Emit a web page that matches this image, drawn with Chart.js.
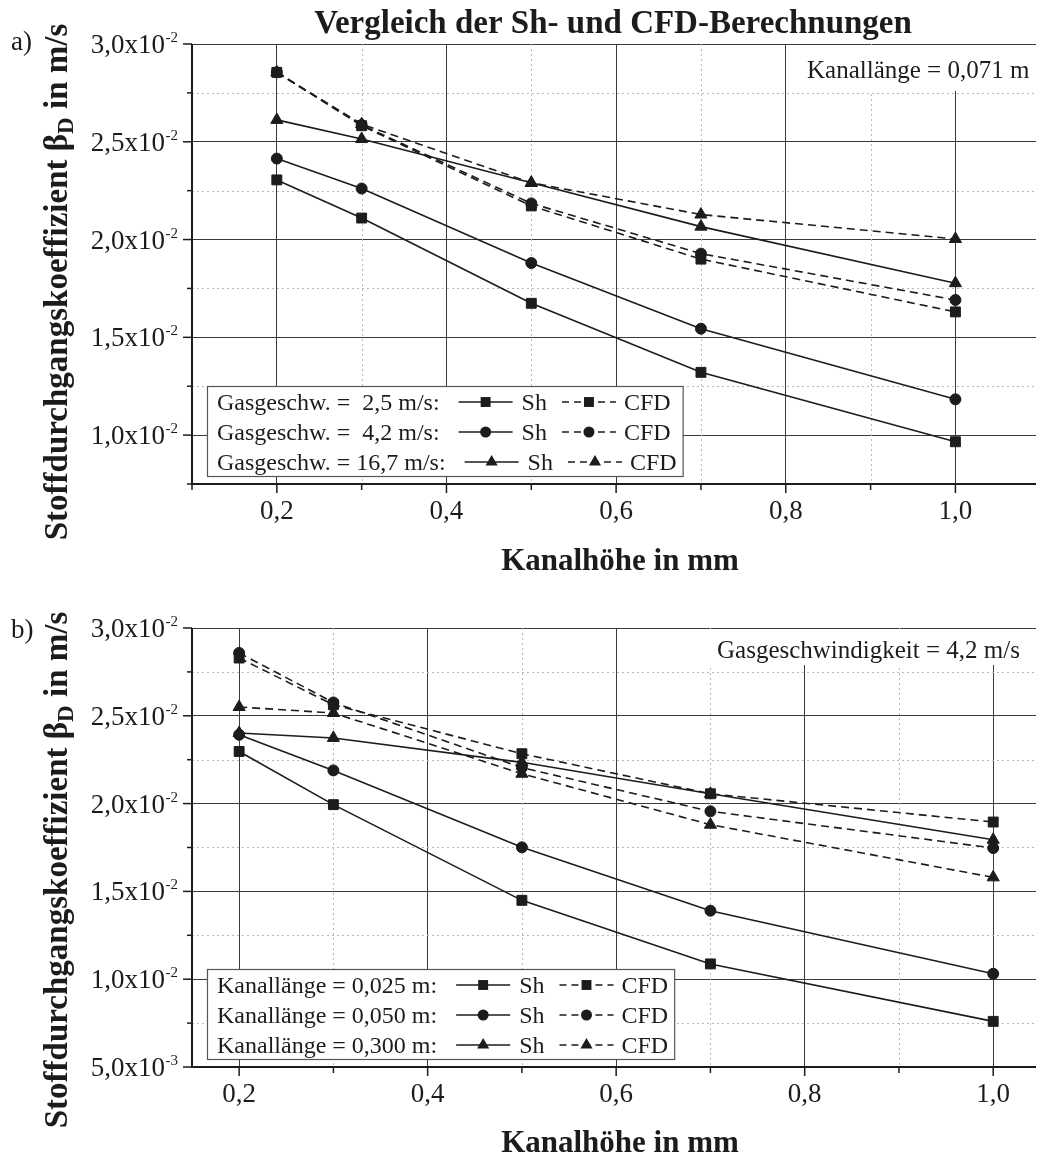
<!DOCTYPE html>
<html>
<head>
<meta charset="utf-8">
<script src="https://cdn.jsdelivr.net/npm/chart.js@4.4.1/dist/chart.umd.min.js"></script>
<style>
html,body{margin:0;padding:0;background:#fff;}
#wrap{position:relative;width:1044px;height:1159px;overflow:hidden;background:#fff;}
canvas{position:absolute;left:0;}
</style>
</head>
<body>
<div id="wrap">
<canvas id="c1" width="1044" height="580" style="top:0px"></canvas>
<canvas id="c2" width="1044" height="579" style="top:580px"></canvas>
</div>
<script>
// ---------- data ----------
const xValues = [0.2, 0.3, 0.5, 0.7, 1.0];

// panel a) Kanallänge = 0,071 m
const topLegendLabels = ['Gasgeschw. =  2,5 m/s:', 'Gasgeschw. =  4,2 m/s:', 'Gasgeschw. = 16,7 m/s:'];
const topSh25  = [0.02305, 0.02110, 0.01674, 0.01321, 0.00966];
const topSh42  = [0.02414, 0.02261, 0.01880, 0.01544, 0.01183];
const topSh167 = [0.02612, 0.02514, 0.02290, 0.02066, 0.01777];
const topCfd25  = [0.02855, 0.02582, 0.02172, 0.01900, 0.01630];
const topCfd42  = [0.02855, 0.02586, 0.02185, 0.01928, 0.01691];
const topCfd167 = [0.02855, 0.02590, 0.02290, 0.02128, 0.02003];

// panel b) Gasgeschwindigkeit = 4,2 m/s
const bottomLegendLabels = ['Kanallänge = 0,025 m:', 'Kanallänge = 0,050 m:', 'Kanallänge = 0,300 m:'];
const botSh025 = [0.02297, 0.01994, 0.01449, 0.01087, 0.00760];
const botSh050 = [0.02392, 0.02189, 0.01751, 0.01390, 0.01031];
const botSh300 = [0.02402, 0.02374, 0.02235, 0.02056, 0.01794];
const botCfd025 = [0.02829, 0.02563, 0.02284, 0.02056, 0.01895];
const botCfd050 = [0.02858, 0.02576, 0.02205, 0.01956, 0.01747];
const botCfd300 = [0.02550, 0.02516, 0.02170, 0.01880, 0.01580];

// ticks
const xMajorValues = [0.2, 0.4, 0.6, 0.8, 1.0];
const xTickLabels = ['0,2', '0,4', '0,6', '0,8', '1,0'];
const xMinorValues = [0.1, 0.3, 0.5, 0.7, 0.9];

const topYMajorValues = [0.010, 0.015, 0.020, 0.025, 0.030];
const topYTickMantissas = ['1,0', '1,5', '2,0', '2,5', '3,0'];
const topYTickExponents = ['-2', '-2', '-2', '-2', '-2'];
const topYMinorValues = [0.0075, 0.0125, 0.0175, 0.0225, 0.0275];

const botYMajorValues = [0.005, 0.010, 0.015, 0.020, 0.025, 0.030];
const botYTickMantissas = ['5,0', '1,0', '1,5', '2,0', '2,5', '3,0'];
const botYTickExponents = ['-3', '-2', '-2', '-2', '-2', '-2'];
const botYMinorValues = [0.0075, 0.0125, 0.0175, 0.0225, 0.0275];

const markerStyles = ['rect', 'circle', 'triangle'];

// ---------- drawing helpers ----------
const SERIF = '"Liberation Serif", "Times New Roman", serif';
const INK = '#1c1c1c';
const DASH = [8, 5];

function radiusFor(style) { return style === 'circle' ? 5.5 : 7; }

function drawMarker(ctx, style, x, y) {
  const r = radiusFor(style);
  ctx.beginPath();
  if (style === 'rect') {
    const s = r * Math.SQRT1_2;
    ctx.rect(x - s, y - s, 2 * s, 2 * s);
  } else if (style === 'circle') {
    ctx.arc(x, y, r, 0, Math.PI * 2);
  } else {
    const h = r * Math.sin(2 * Math.PI / 3);
    ctx.moveTo(x, y - r);
    ctx.lineTo(x + h, y + r / 2);
    ctx.lineTo(x - h, y + r / 2);
    ctx.closePath();
  }
  ctx.fill();
}

function makeDataset(label, values, style, dashed) {
  return {
    label: label,
    data: xValues.map((x, i) => ({ x: x, y: values[i] })),
    borderColor: INK,
    backgroundColor: INK,
    borderWidth: 1.6,
    borderDash: dashed ? DASH : [],
    pointStyle: style,
    pointRadius: radiusFor(style),
    pointBorderWidth: 1,
    pointBorderColor: INK,
    pointBackgroundColor: INK,
    tension: 0,
    fill: false
  };
}

function decorPlugin(cfg) {
  return {
    id: 'decor',
    beforeDatasetsDraw(chart) {
      const ctx = chart.ctx, a = chart.chartArea, xs = chart.scales.x, ys = chart.scales.y;
      ctx.save();
      // minor dotted grid
      ctx.strokeStyle = '#b8b8b8';
      ctx.lineWidth = 1;
      ctx.setLineDash([2, 3]);
      cfg.xMinor.forEach(v => {
        if (v <= xs.min + 1e-9 || v >= xs.max) return;
        const px = Math.round(xs.getPixelForValue(v)) + 0.5;
        ctx.beginPath(); ctx.moveTo(px, a.top); ctx.lineTo(px, a.bottom); ctx.stroke();
      });
      cfg.yMinor.forEach(v => {
        if (v <= ys.min + 1e-9 || v >= ys.max) return;
        const py = Math.round(ys.getPixelForValue(v)) + 0.5;
        ctx.beginPath(); ctx.moveTo(a.left, py); ctx.lineTo(a.right, py); ctx.stroke();
      });
      ctx.setLineDash([]);
      // annotation box (white background covers grid)
      const an = cfg.annotation;
      ctx.fillStyle = '#fff';
      ctx.fillRect(an.box[0], an.box[1], an.box[2] - an.box[0], an.box[3] - an.box[1]);
      ctx.fillStyle = INK;
      ctx.font = '25px ' + SERIF;
      ctx.textAlign = 'left';
      ctx.textBaseline = 'alphabetic';
      ctx.fillText(an.text, an.x, an.y);
      ctx.restore();
    },
    afterDatasetsDraw(chart) {
      const ctx = chart.ctx, a = chart.chartArea, xs = chart.scales.x, ys = chart.scales.y;
      ctx.save();
      ctx.strokeStyle = INK;
      ctx.fillStyle = INK;
      // axis lines
      ctx.lineWidth = 2;
      ctx.beginPath(); ctx.moveTo(a.left, a.top); ctx.lineTo(a.left, a.bottom + 1); ctx.stroke();
      ctx.beginPath(); ctx.moveTo(a.left - 1, a.bottom); ctx.lineTo(a.right, a.bottom); ctx.stroke();
      // tick marks
      ctx.lineWidth = 1.5;
      const yTick = (v, len) => {
        if (v < ys.min - 1e-9 || v > ys.max + 1e-9) return;
        const py = ys.getPixelForValue(v);
        ctx.beginPath(); ctx.moveTo(a.left - len, py); ctx.lineTo(a.left, py); ctx.stroke();
      };
      const xTick = (v, len) => {
        if (v < xs.min - 1e-9 || v > xs.max + 1e-9) return;
        const px = xs.getPixelForValue(v);
        ctx.beginPath(); ctx.moveTo(px, a.bottom); ctx.lineTo(px, a.bottom + len); ctx.stroke();
      };
      cfg.yMajor.forEach(v => yTick(v, 9));
      cfg.yMinor.forEach(v => yTick(v, 5));
      cfg.xMajor.forEach(v => xTick(v, 9));
      cfg.xMinor.forEach(v => xTick(v, 6));
      // y tick labels with superscript exponent
      ctx.textBaseline = 'alphabetic';
      cfg.yMajor.forEach((v, i) => {
        const py = ys.getPixelForValue(v);
        ctx.font = '27px ' + SERIF;
        ctx.textAlign = 'right';
        ctx.fillText(cfg.yMant[i] + 'x10', 165, py + 9);
        ctx.font = '15px ' + SERIF;
        ctx.textAlign = 'left';
        ctx.fillText(cfg.yExp[i], 165.5, py - 2);
      });
      // x tick labels
      ctx.font = '27px ' + SERIF;
      ctx.textAlign = 'center';
      cfg.xMajor.forEach((v, i) => {
        ctx.fillText(cfg.xLabels[i], xs.getPixelForValue(v), a.bottom + 35);
      });
      // legend
      const lg = cfg.legend;
      ctx.font = '24px ' + SERIF;
      ctx.textAlign = 'left';
      const rows = lg.labels.map((lab, i) => {
        const cy = lg.y0 + 16 + 30 * i;
        const tEnd = lg.textX + ctx.measureText(lab).width;
        const l1 = tEnd + 19, l2 = l1 + 54;
        const shX = l2 + 9;
        const shEnd = shX + ctx.measureText('Sh').width;
        const d1 = shEnd + 15, d2 = d1 + 54;
        const cfdX = d2 + 8;
        const cfdEnd = cfdX + ctx.measureText('CFD').width;
        return { lab, cy, l1, l2, shX, d1, d2, cfdX, cfdEnd, style: lg.styles[i] };
      });
      const right = Math.max.apply(null, rows.map(r => r.cfdEnd)) + 6;
      ctx.fillStyle = '#fff';
      ctx.fillRect(lg.x0, lg.y0, right - lg.x0, 90);
      ctx.strokeStyle = '#555';
      ctx.lineWidth = 1.2;
      ctx.strokeRect(lg.x0 + 0.5, lg.y0 + 0.5, right - lg.x0, 90);
      ctx.fillStyle = INK;
      ctx.strokeStyle = INK;
      rows.forEach(r => {
        ctx.fillText(r.lab, lg.textX, r.cy + 8);
        ctx.lineWidth = 1.6;
        ctx.setLineDash([]);
        ctx.beginPath(); ctx.moveTo(r.l1, r.cy); ctx.lineTo(r.l2, r.cy); ctx.stroke();
        drawMarker(ctx, r.style, (r.l1 + r.l2) / 2, r.cy);
        ctx.fillText('Sh', r.shX, r.cy + 8);
        ctx.setLineDash([7, 5]);
        ctx.beginPath(); ctx.moveTo(r.d1, r.cy); ctx.lineTo(r.d2, r.cy); ctx.stroke();
        ctx.setLineDash([]);
        drawMarker(ctx, r.style, (r.d1 + r.d2) / 2, r.cy);
        ctx.fillText('CFD', r.cfdX, r.cy + 8);
      });
      ctx.restore();
    },
    afterDraw(chart) {
      const ctx = chart.ctx;
      ctx.save();
      ctx.fillStyle = INK;
      ctx.textBaseline = 'alphabetic';
      // panel label
      ctx.font = '27px ' + SERIF;
      ctx.textAlign = 'left';
      ctx.fillText(cfg.panel.text, cfg.panel.x, cfg.panel.y);
      // chart title
      if (cfg.title) {
        ctx.font = 'bold 33px ' + SERIF;
        ctx.textAlign = 'center';
        ctx.fillText(cfg.title.text, cfg.title.x, cfg.title.y);
      }
      // x axis title
      ctx.font = 'bold 31px ' + SERIF;
      ctx.textAlign = 'center';
      ctx.fillText(cfg.xTitle.text, cfg.xTitle.x, cfg.xTitle.y);
      // y axis title with subscript
      const yt = cfg.yTitle;
      ctx.translate(yt.x, yt.cy);
      ctx.rotate(-Math.PI / 2);
      ctx.textAlign = 'left';
      const big = 'bold 33px ' + SERIF, small = 'bold 23px ' + SERIF;
      ctx.font = big; const w1 = ctx.measureText(yt.pre).width;
      ctx.font = small; const w2 = ctx.measureText(yt.sub).width;
      ctx.font = big; const w3 = ctx.measureText(yt.post).width;
      let sx = -(w1 + w2 + w3) / 2;
      ctx.font = big; ctx.fillText(yt.pre, sx, 0); sx += w1;
      ctx.font = small; ctx.fillText(yt.sub, sx, 6); sx += w2;
      ctx.font = big; ctx.fillText(yt.post, sx, 0);
      ctx.restore();
    }
  };
}

function makeChart(id, datasets, xr, yr, yMajor, padTop, xHeight, cfg) {
  return new Chart(document.getElementById(id), {
    type: 'line',
    data: { datasets: datasets },
    options: {
      responsive: false,
      animation: false,
      devicePixelRatio: 1,
      layout: { padding: { top: padTop, left: 0, right: 0, bottom: 0 } },
      plugins: { legend: { display: false }, tooltip: { enabled: false }, title: { display: false } },
      scales: {
        x: {
          type: 'linear', min: xr[0], max: xr[1],
          afterBuildTicks: s => { s.ticks = xMajorValues.map(v => ({ value: v })); },
          afterFit: s => { s.height = xHeight; },
          ticks: { display: false },
          grid: { color: '#3a3a3a', lineWidth: 1, drawTicks: false },
          border: { display: false }
        },
        y: {
          type: 'linear', min: yr[0], max: yr[1],
          afterBuildTicks: s => { s.ticks = yMajor.map(v => ({ value: v })); },
          afterFit: s => { s.width = 192; },
          ticks: { display: false },
          grid: { color: '#3a3a3a', lineWidth: 1, drawTicks: false },
          border: { display: false }
        }
      }
    },
    plugins: [decorPlugin(cfg)]
  });
}

const yTitleParts = { pre: 'Stoffdurchgangskoeffizient β', sub: 'D', post: ' in m/s' };

makeChart('c1', [
  makeDataset('Sh 2,5', topSh25, 'rect', false),
  makeDataset('Sh 4,2', topSh42, 'circle', false),
  makeDataset('Sh 16,7', topSh167, 'triangle', false),
  makeDataset('CFD 2,5', topCfd25, 'rect', true),
  makeDataset('CFD 4,2', topCfd42, 'circle', true),
  makeDataset('CFD 16,7', topCfd167, 'triangle', true)
], [0.1, 1.095], [0.0075, 0.030], topYMajorValues, 44, 96, {
  xMajor: xMajorValues, xMinor: xMinorValues, xLabels: xTickLabels,
  yMajor: topYMajorValues, yMinor: topYMinorValues, yMant: topYTickMantissas, yExp: topYTickExponents,
  annotation: { text: 'Kanallänge = 0,071 m', x: 807, y: 78, box: [800, 45, 1044, 91] },
  legend: { x0: 207, y0: 386, textX: 217, labels: topLegendLabels, styles: markerStyles },
  panel: { text: 'a)', x: 11, y: 50 },
  title: { text: 'Vergleich der Sh- und CFD-Berechnungen', x: 613, y: 33 },
  xTitle: { text: 'Kanalhöhe in mm', x: 620, y: 570 },
  yTitle: Object.assign({ x: 67, cy: 282 }, yTitleParts)
});

makeChart('c2', [
  makeDataset('Sh 0,025', botSh025, 'rect', false),
  makeDataset('Sh 0,050', botSh050, 'circle', false),
  makeDataset('Sh 0,300', botSh300, 'triangle', false),
  makeDataset('CFD 0,025', botCfd025, 'rect', true),
  makeDataset('CFD 0,050', botCfd050, 'circle', true),
  makeDataset('CFD 0,300', botCfd300, 'triangle', true)
], [0.15, 1.0454], [0.005, 0.030], botYMajorValues, 48, 92, {
  xMajor: xMajorValues, xMinor: xMinorValues, xLabels: xTickLabels,
  yMajor: botYMajorValues, yMinor: botYMinorValues, yMant: botYTickMantissas, yExp: botYTickExponents,
  annotation: { text: 'Gasgeschwindigkeit = 4,2 m/s', x: 717, y: 78, box: [706, 49, 1044, 85] },
  legend: { x0: 207, y0: 389, textX: 217, labels: bottomLegendLabels, styles: markerStyles },
  panel: { text: 'b)', x: 11, y: 58 },
  title: null,
  xTitle: { text: 'Kanalhöhe in mm', x: 620, y: 572 },
  yTitle: Object.assign({ x: 67, cy: 290 }, yTitleParts)
});
</script>
</body>
</html>
